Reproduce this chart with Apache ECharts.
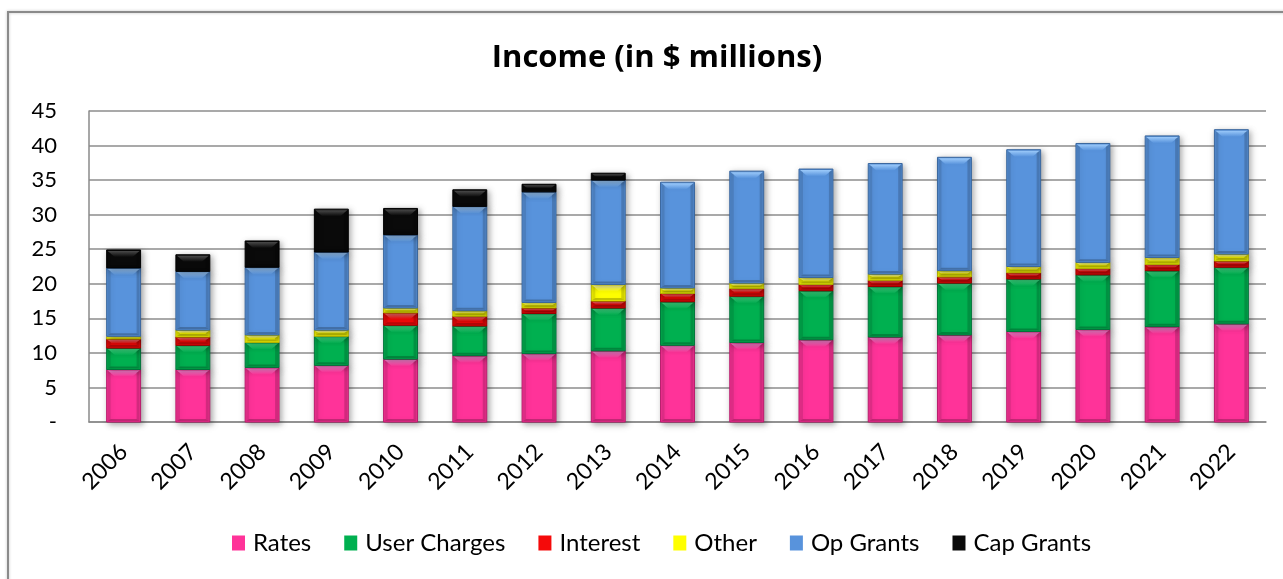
<!DOCTYPE html>
<html>
<head>
<meta charset="utf-8">
<title>Income (in $ millions)</title>
<script src="https://cdn.jsdelivr.net/npm/echarts@6/dist/echarts.min.js"></script>
<style>
  html, body { margin: 0; padding: 0; background: #fff; }
  #chart { width: 1283px; height: 579px; }
</style>
</head>
<body>
<div id="chart"></div>
<script>
// Income by source, $ millions
const years = ['2006','2007','2008','2009','2010','2011','2012','2013','2014','2015','2016','2017','2018','2019','2020','2021','2022'];
const rates       = [7.6, 7.6, 7.9, 8.2, 9.1, 9.6, 9.9, 10.3, 11.1, 11.5, 11.9, 12.3, 12.6, 13.1, 13.4, 13.8, 14.2];
const userCharges = [3.1, 3.5, 3.6, 4.2, 4.9, 4.3, 5.8, 6.2, 6.3, 6.7, 7.1, 7.3, 7.5, 7.6, 7.9, 8.1, 8.2];
const interest    = [1.3, 1.2, 0.0, 0.0, 1.8, 1.4, 0.8, 1.0, 1.2, 1.1, 0.9, 0.9, 0.9, 0.9, 0.9, 0.9, 0.9];
const other       = [0.4, 1.0, 1.1, 0.9, 0.7, 0.8, 0.8, 2.4, 0.8, 0.8, 1.0, 0.9, 0.9, 0.9, 0.9, 1.0, 1.0];
const opGrants    = [9.9, 8.5, 9.8, 11.3, 10.6, 15.1, 16.0, 15.1, 15.3, 16.2, 15.7, 16.0, 16.4, 16.9, 17.2, 17.6, 18.0];
const capGrants   = [2.6, 2.4, 3.8, 6.2, 3.8, 2.4, 1.1, 1.0, 0, 0, 0, 0, 0, 0, 0, 0, 0];

const yTicks = { min: 0, max: 45, interval: 5 };

const sources = [
  { name: 'Rates',        values: rates,       base: '#ff3399', light: '#ff86d6', edge: '#b81c6c' },
  { name: 'User Charges', values: userCharges, base: '#00b050', light: '#3fe88a', edge: '#00743a' },
  { name: 'Interest',     values: interest,    base: '#f50a0a', light: '#ff6a6a', edge: '#a00000' },
  { name: 'Other',        values: other,       base: '#ffff00', light: '#ffffa0', edge: '#b8b800' },
  { name: 'Op Grants',    values: opGrants,    base: '#5893dc', light: '#9ccafa', edge: '#3a679e' },
  { name: 'Cap Grants',   values: capGrants,   base: '#0a0a0a', light: '#4a4a4a', edge: '#000000' }
];

const FONT = 'Lato, "Open Sans", sans-serif';
const TITLE_FONT = '"Open Sans", Lato, sans-serif';

// Cumulative stacking: each segment spans [bottom, top] for its year
const running = years.map(() => 0);
const stacked = sources.map(s => {
  const rows = s.values.map((v, i) => {
    const lo = running[i];
    running[i] = lo + v;
    return [i, lo, lo + v];
  });
  return rows;
});

// Bevelled bar segment: base block, bright top facet, shaded sides and bottom
function bevelBar(src) {
  return function (params, api) {
    const idx = api.value(0), lo = api.value(1), hi = api.value(2);
    if (!(hi - lo > 0)) return null;
    const pLo = api.coord([idx, lo]);
    const pHi = api.coord([idx, hi]);
    const bw = api.size([1, 0])[0] * 0.49;
    const x0 = pLo[0] - bw / 2, x1 = x0 + bw;
    const y0 = pHi[1], y1 = pLo[1];
    const h = y1 - y0;
    const d = Math.min(7, h / 2);
    const s = Math.min(3, h / 2);
    return {
      type: 'group',
      children: [
        {
          type: 'rect',
          shape: { x: x0, y: y0, width: bw, height: h },
          style: {
            fill: src.base, stroke: src.edge, lineWidth: 1,
            shadowBlur: 6, shadowOffsetX: 2, shadowOffsetY: 2, shadowColor: 'rgba(0,0,0,0.35)'
          }
        },
        {
          type: 'polygon',
          shape: { points: [[x0 + 1, y0 + 1], [x1 - 1, y0 + 1], [x1 - 1 - d, y0 + d], [x0 + 1 + d, y0 + d]] },
          style: {
            fill: new echarts.graphic.LinearGradient(0, 0, 0, 1, [
              { offset: 0, color: src.light }, { offset: 1, color: src.base }
            ])
          }
        },
        {
          type: 'polygon',
          shape: { points: [[x0 + 1, y0 + 1], [x0 + 1 + s, y0 + s], [x0 + 1 + s, y1 - s], [x0 + 1, y1 - 1]] },
          style: { fill: 'rgba(0,0,0,0.10)' }
        },
        {
          type: 'polygon',
          shape: { points: [[x1 - 1, y0 + 1], [x1 - 1 - s, y0 + s], [x1 - 1 - s, y1 - s], [x1 - 1, y1 - 1]] },
          style: { fill: 'rgba(0,0,0,0.16)' }
        },
        {
          type: 'polygon',
          shape: { points: [[x0 + 1, y1 - 1], [x1 - 1, y1 - 1], [x1 - 1 - s, y1 - s], [x0 + 1 + s, y1 - s]] },
          style: { fill: 'rgba(0,0,0,0.22)' }
        }
      ]
    };
  };
}

const chart = echarts.init(document.getElementById('chart'), null, { renderer: 'canvas' });

chart.setOption({
  backgroundColor: '#ffffff',
  animation: false,
  graphic: [
    {
      type: 'rect',
      silent: true,
      z: -10,
      shape: { x: 8, y: 12, width: 1300, height: 620 },
      style: { fill: 'none', stroke: '#8a8a8a', lineWidth: 2, shadowBlur: 3, shadowColor: 'rgba(0,0,0,0.25)' }
    }
  ],
  title: {
    text: 'Income (in $ millions)',
    left: 652,
    textAlign: 'center',
    top: 38,
    textStyle: { fontFamily: TITLE_FONT, fontWeight: 'bold', fontSize: 31, color: '#000' }
  },
  legend: {
    data: sources.map(s => s.name),
    left: 227,
    top: 526,
    icon: 'rect',
    itemWidth: 13,
    itemHeight: 15,
    itemGap: 33,
    textStyle: { fontFamily: FONT, fontSize: 24, color: '#000', padding: [0, 0, 0, 3] }
  },
  grid: { left: 89, right: 17, top: 111, bottom: 157, containLabel: false },
  xAxis: {
    type: 'category',
    data: years,
    boundaryGap: true,
    axisLine: { show: true, lineStyle: { color: '#8a8a8a', width: 1.5 } },
    axisTick: { show: false },
    axisLabel: { rotate: 45, margin: 26, fontFamily: FONT, fontSize: 23, color: '#000', interval: 0 }
  },
  yAxis: {
    type: 'value',
    min: yTicks.min,
    max: yTicks.max,
    interval: yTicks.interval,
    axisLine: { show: true, lineStyle: { color: '#8a8a8a', width: 1.5 } },
    axisTick: { show: false },
    splitLine: { show: true, lineStyle: { color: '#8c8c8c', width: 1.5 } },
    axisLabel: {
      margin: 32,
      fontFamily: FONT, fontSize: 22, color: '#000',
      formatter: v => (v === 0 ? '-' : String(v))
    }
  },
  series: sources.map((s, k) => ({
    name: s.name,
    type: 'custom',
    renderItem: bevelBar(s),
    itemStyle: { color: s.base },
    encode: { x: 0, y: [1, 2] },
    data: stacked[k],
    z: 2
  }))
});
</script>
</body>
</html>
